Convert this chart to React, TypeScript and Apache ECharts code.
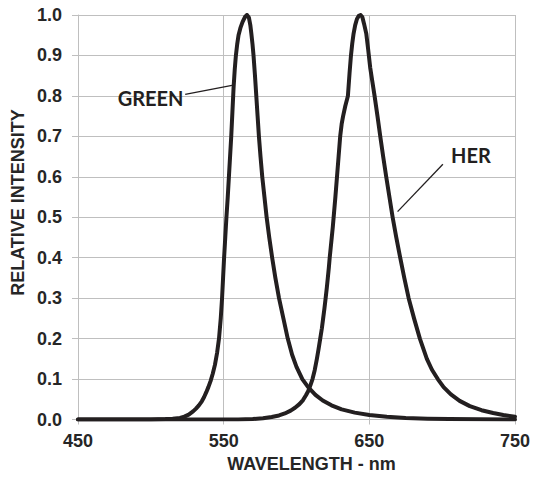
import React, { useEffect, useRef } from "react";
import * as echarts from "echarts";

// Wavelength (nm) and relative intensity for the GREEN emitter
const greenNm = [450, 500, 510, 515, 520, 523, 526, 529, 531, 533, 535, 536.5, 538, 539.5, 541, 542.5, 544, 545.5, 546.8, 548, 548.9, 549.6, 550.3, 551.1, 551.9, 552.8, 553.6, 554.4, 555.2, 556, 556.8, 557.6, 558.4, 559.3, 560.2, 561.5, 563, 564.6, 566, 567.3, 568.3, 569, 569.8, 570.5, 571.5, 572.4, 573.3, 574.2, 575.3, 576.5, 578, 579.5, 581.3, 583.3, 585.5, 588, 591, 594, 597, 600, 604, 608, 613, 618, 624, 631, 640, 650, 662, 675, 690, 705, 725, 750];
const greenVal = [0, 0, 0.001, 0.002, 0.004, 0.007, 0.012, 0.02, 0.027, 0.035, 0.045, 0.055, 0.067, 0.08, 0.095, 0.113, 0.135, 0.165, 0.2, 0.25, 0.3, 0.35, 0.4, 0.45, 0.5, 0.55, 0.6, 0.65, 0.7, 0.76, 0.82, 0.865, 0.9, 0.928, 0.95, 0.968, 0.983, 0.995, 1.0, 0.994, 0.975, 0.954, 0.928, 0.9, 0.85, 0.8, 0.75, 0.7, 0.65, 0.6, 0.55, 0.5, 0.45, 0.4, 0.35, 0.3, 0.25, 0.2, 0.16, 0.13, 0.1, 0.08, 0.061, 0.047, 0.035, 0.025, 0.017, 0.011, 0.007, 0.004, 0.002, 0.001, 0.0005, 0];

// Wavelength (nm) and relative intensity for the HER emitter
const herNm = [450, 560, 570, 577, 583, 588, 592, 596, 599, 602, 604.5, 606.5, 608, 609.6, 611, 612.5, 614, 615.2, 616.3, 617.4, 618.3, 619.2, 620, 620.8, 621.5, 622.2, 622.8, 623.5, 624.2, 624.9, 625.5, 626.7, 627.8, 628.9, 630, 631, 632, 633.5, 635.3, 636.4, 637.4, 638.3, 639.2, 640.3, 641.5, 642.8, 644, 645.2, 646.4, 647.9, 649.2, 650.6, 652.1, 653.6, 655.6, 657.5, 659.5, 661.6, 663.8, 666, 668.5, 671.2, 674, 677, 680.7, 684.7, 689.5, 693, 697, 701, 706, 712, 719, 727, 735, 742, 750];
const herVal = [0, 0, 0.001, 0.003, 0.006, 0.01, 0.015, 0.022, 0.029, 0.038, 0.048, 0.06, 0.07, 0.085, 0.1, 0.122, 0.15, 0.175, 0.2, 0.225, 0.25, 0.275, 0.3, 0.325, 0.35, 0.375, 0.4, 0.425, 0.45, 0.475, 0.5, 0.55, 0.6, 0.65, 0.7, 0.73, 0.75, 0.775, 0.8, 0.855, 0.9, 0.93, 0.954, 0.975, 0.99, 0.998, 1.0, 0.995, 0.978, 0.954, 0.915, 0.87, 0.835, 0.8, 0.75, 0.7, 0.65, 0.6, 0.55, 0.5, 0.45, 0.4, 0.35, 0.3, 0.25, 0.2, 0.15, 0.123, 0.1, 0.08, 0.062, 0.046, 0.033, 0.023, 0.016, 0.011, 0.007];

// Annotations in data coordinates: label anchor, leader start, leader end
const greenNote = { text: "GREEN", at: [499.8, 0.794], from: [523.6, 0.804], to: [555.7, 0.826] };
const herNote = { text: "HER", at: [719.8, 0.654], from: [700.5, 0.631], to: [669.4, 0.514] };

const xMin = 450;
const xMax = 750;
const yMin = 0;
const yMax = 1;

const INK = "#231f20";
const GRID = "#bfbfbf";

export default function App() {
  const ref = useRef<HTMLDivElement>(null);
  useEffect(() => {
    if (!ref.current) return;
    const chart = echarts.init(ref.current, null, { renderer: "svg" });
    const zip = (a: number[], b: number[]) => a.map((v, i) => [v, b[i]]);
    const axisText = { fontFamily: "Liberation Sans, Arial", fontWeight: "bold" as const, fontSize: 18, color: "#262626" };
    chart.setOption({
      animation: false,
      grid: { left: 78, top: 15, width: 437, height: 404.5, containLabel: false },
      xAxis: {
        type: "value",
        min: xMin,
        max: xMax,
        interval: 100,
        axisLine: { show: true, lineStyle: { color: GRID, width: 1 } },
        axisTick: { show: true, length: 5, lineStyle: { color: GRID } },
        axisLabel: { ...axisText, margin: 12 },
        splitLine: { show: true, lineStyle: { color: GRID, width: 1 } },
      },
      yAxis: {
        type: "value",
        min: yMin,
        max: yMax,
        interval: 0.1,
        axisLine: { show: true, lineStyle: { color: GRID, width: 1 } },
        axisTick: { show: true, length: 6, lineStyle: { color: GRID } },
        axisLabel: { ...axisText, margin: 16, formatter: (v: number) => v.toFixed(1) },
        splitLine: { show: true, lineStyle: { color: GRID, width: 1 } },
      },
      series: [
        {
          type: "line",
          name: "GREEN",
          data: zip(greenNm, greenVal),
          showSymbol: false,
          smooth: false,
          lineStyle: { color: INK, width: 4, join: "round", cap: "round" },
          z: 3,
        },
        {
          type: "line",
          name: "HER",
          data: zip(herNm, herVal),
          showSymbol: false,
          smooth: false,
          lineStyle: { color: INK, width: 4, join: "round", cap: "round" },
          z: 3,
        },
      ],
    });

    const px = (p: number[]) => chart.convertToPixel({ gridIndex: 0 }, p) as number[];
    const notes = [greenNote, herNote];
    const graphics: any[] = [
      {
        type: "text",
        x: 311.5,
        y: 464,
        style: { text: "WAVELENGTH - nm", ...axisText, fill: "#262626", align: "center", verticalAlign: "middle" },
      },
      {
        type: "text",
        x: 18,
        y: 202.5,
        rotation: Math.PI / 2,
        style: { text: "RELATIVE INTENSITY", ...axisText, fill: "#262626", align: "center", verticalAlign: "middle" },
      },
    ];
    notes.forEach((n) => {
      const a = px(n.at);
      const f = px(n.from);
      const t = px(n.to);
      graphics.push({
        type: "line",
        shape: { x1: f[0], y1: f[1], x2: t[0], y2: t[1] },
        style: { stroke: INK, lineWidth: 1.3 },
        z: 10,
      });
      graphics.push({
        type: "text",
        x: a[0],
        y: a[1],
        style: { text: n.text, fontFamily: "Lato", fontWeight: "bold", fontSize: 20, fill: INK, align: "center", verticalAlign: "middle" },
        z: 10,
      });
    });
    chart.setOption({ graphic: graphics });
    return () => chart.dispose();
  }, []);
  return <div ref={ref} style={{ position: "absolute", left: 0, top: 0, width: 533, height: 479, background: "#fff" }} />;
}
